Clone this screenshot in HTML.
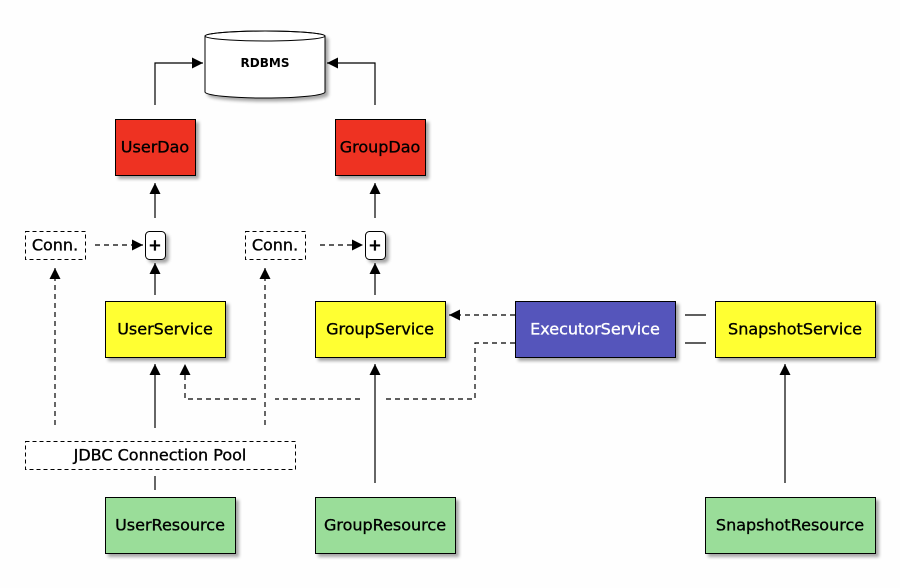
<!DOCTYPE html>
<html><head><meta charset="utf-8"><style>
html,body{margin:0;padding:0;background:#fefefe;}
svg{display:block;}
text{font-family:"DejaVu Sans","Liberation Sans",sans-serif;font-size:16px;text-anchor:middle;dominant-baseline:central;fill:#000;stroke:#000;stroke-width:0.35;}
</style></head><body>
<svg width="900" height="588" viewBox="0 0 900 588" xmlns="http://www.w3.org/2000/svg">
<defs>
<marker id="b" viewBox="0 0 10 10" refX="10" refY="5" markerWidth="14" markerHeight="11" markerUnits="userSpaceOnUse" orient="auto"><path d="M0,0L10,5L0,10z" fill="#000"/></marker>
<filter id="s" x="-10%" y="-10%" width="130%" height="140%"><feDropShadow dx="3" dy="3" stdDeviation="1.5" flood-color="#000" flood-opacity="0.35"/></filter>
</defs>
<rect width="900" height="588" fill="#fefefe"/>

<g filter="url(#s)">
<path d="M205,36 L205,92 A60,6 0 0 0 325,92 L325,36 A60,5 0 0 0 205,36 Z" fill="#fff" stroke="#000" stroke-width="1"/>
</g>
<ellipse cx="265" cy="36" rx="60" ry="5" fill="none" stroke="#000"/>
<text x="265" y="63" style="font-size:12px;font-weight:bold;stroke-width:0">RDBMS</text>

<g stroke="#000" stroke-width="1.2" fill="none">
<polyline points="155,105 155,63 203,63" marker-end="url(#b)"/>
<polyline points="375,105 375,63 327,63" marker-end="url(#b)"/>
<line x1="155" y1="218" x2="155" y2="183" marker-end="url(#b)"/>
<line x1="375" y1="218" x2="375" y2="183" marker-end="url(#b)"/>
<line x1="155" y1="295" x2="155" y2="263" marker-end="url(#b)"/>
<line x1="375" y1="295" x2="375" y2="263" marker-end="url(#b)"/>
<line x1="155" y1="428" x2="155" y2="364" marker-end="url(#b)"/>
<line x1="155" y1="476" x2="155" y2="490"/>
<line x1="375" y1="483" x2="375" y2="364" marker-end="url(#b)"/>
<line x1="785" y1="483" x2="785" y2="364" marker-end="url(#b)"/>
<line x1="685" y1="315" x2="706" y2="315"/>
<line x1="685" y1="343" x2="706" y2="343"/>
</g>
<g stroke="#000" stroke-width="1.2" fill="none" stroke-dasharray="5,4">
<line x1="95" y1="245" x2="143" y2="245" marker-end="url(#b)"/>
<line x1="320" y1="245" x2="363" y2="245" marker-end="url(#b)"/>
<line x1="55" y1="425" x2="55" y2="268" marker-end="url(#b)"/>
<line x1="265" y1="425" x2="265" y2="268" marker-end="url(#b)"/>
<line x1="515" y1="315" x2="449" y2="315" marker-end="url(#b)"/>
<polyline points="515,343 475,343 475,399 386,399"/>
<line x1="360" y1="399" x2="275" y2="399"/>
<polyline points="256,399 185,399 185,364" marker-end="url(#b)"/>
</g>

<g stroke="#000" stroke-width="1" filter="url(#s)">
<rect x="115.5" y="119.5" width="80" height="56" fill="#ee3124"/>
<rect x="335.5" y="119.5" width="90" height="56" fill="#ee3124"/>
<rect x="145.5" y="231.5" width="20" height="28" rx="4" fill="#fff"/>
<rect x="365.5" y="231.5" width="20" height="28" rx="4" fill="#fff"/>
<rect x="105.5" y="301.5" width="120" height="56" fill="#ffff33"/>
<rect x="315.5" y="301.5" width="130" height="56" fill="#ffff33"/>
<rect x="515.5" y="301.5" width="160" height="56" fill="#5555bb"/>
<rect x="715.5" y="301.5" width="160" height="56" fill="#ffff33"/>
<rect x="105.5" y="497.5" width="130" height="56" fill="#9add99"/>
<rect x="315.5" y="497.5" width="140" height="56" fill="#9add99"/>
<rect x="705.5" y="497.5" width="170" height="56" fill="#9add99"/>
</g>
<g stroke="#000" stroke-width="1" fill="#fff" stroke-dasharray="4,3">
<rect x="25.5" y="231.5" width="60" height="28"/>
<rect x="245.5" y="231.5" width="60" height="28"/>
<rect x="25.5" y="441.5" width="270" height="28"/>
</g>

<text x="155" y="147">UserDao</text>
<text x="380" y="147">GroupDao</text>
<text x="55" y="245">Conn.</text>
<text x="275" y="245">Conn.</text>
<text x="155" y="245" style="font-weight:bold">+</text>
<text x="375" y="245" style="font-weight:bold">+</text>
<text x="165" y="329">UserService</text>
<text x="380" y="329">GroupService</text>
<text x="595" y="329" style="fill:#fff;stroke:#fff">ExecutorService</text>
<text x="795" y="329">SnapshotService</text>
<text x="160" y="455">JDBC Connection Pool</text>
<text x="170" y="525">UserResource</text>
<text x="385" y="525">GroupResource</text>
<text x="790" y="525">SnapshotResource</text>
</svg>
</body></html>
